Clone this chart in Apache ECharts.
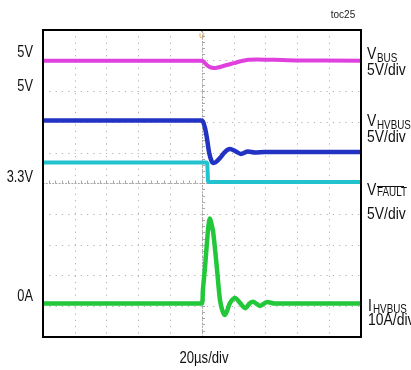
<!DOCTYPE html>
<html>
<head>
<meta charset="utf-8">
<script src="https://cdn.jsdelivr.net/npm/echarts/dist/echarts.min.js"></script>
<style>
html,body{margin:0;padding:0;background:#fff;}
#chart{width:411px;height:370px;}
</style>
</head>
<body>
<div id="chart"></div>
<script>
// Time axis in microseconds (20 µs/div, 10 divisions), vertical axis in divisions from screen centre
var xTicks = [-100, -80, -60, -40, -20, 0, 20, 40, 60, 80, 100];

var vbusT   = [-100, -0.5, 1, 3, 5, 7.3, 10, 15, 20, 25, 29, 35, 45, 60, 100];
var vbusV   = [4.0, 4.0, 3.97, 3.86, 3.79, 3.76, 3.78, 3.85, 3.92, 3.99, 4.03, 4.04, 4.03, 4.01, 4.0];

var hvbusT  = [-100, -0.6, 0.6, 1.9, 3.1, 4.4, 5.7, 6.9, 8.8, 11.3, 14.5, 17.6, 20.8, 24.5, 28.9, 33.3, 39.6, 100];
var hvbusV  = [2.05, 2.05, 2.02, 1.81, 1.48, 1.03, 0.77, 0.67, 0.70, 0.83, 1.03, 1.12, 1.06, 0.96, 1.04, 1.01, 1.03, 1.03];

var faultT  = [-100, 3.3, 3.8, 100];
var faultV  = [0.68, 0.68, 0.05, 0.05];

var ihvbusT = [-100, -0.2, 0.6, 1.9, 3.6, 4.4, 5.0, 6.0, 7.1, 9.3, 11.3, 12.9, 14.5, 16.0, 17.6, 20.8, 23.9, 27.1, 30.2, 32.1, 34.6, 36.5, 40.9, 45.9, 100];
var ihvbusV = [-3.91, -3.91, -3.44, -2.72, -1.61, -1.25, -1.14, -1.32, -1.61, -2.72, -3.79, -4.15, -4.28, -4.12, -3.89, -3.73, -3.89, -4.06, -3.89, -3.85, -3.93, -3.99, -3.86, -3.91, -3.91];

function pairs(t, v) { return t.map(function (x, i) { return [x, v[i]]; }); }

var FONT = "'Liberation Sans', Arial, sans-serif";
var chart = echarts.init(document.getElementById('chart'), null, {renderer: 'canvas'});

// narrow-looking text (horizontal squeeze to mimic a condensed face)
function txt(s, x, y, size, align, color, sx) {
  return {type: 'text', silent: true, x: x, y: y, scaleX: sx || 0.82,
    style: {text: s, x: 0, y: 0, font: size + 'px ' + FONT,
    fill: color || '#111', textAlign: align || 'left', textVerticalAlign: 'middle', verticalAlign: 'middle'}};
}

var dotted = {color: '#b0b0b0', width: 1, type: [1.2, 5.1]};

var option = {
  animation: false,
  backgroundColor: '#fff',
  grid: {left: 43, right: 50, top: 30, bottom: 33, show: true, borderColor: '#000', borderWidth: 2, backgroundColor: 'transparent', z: 10},
  xAxis: {
    type: 'value', min: xTicks[0], max: xTicks[xTicks.length - 1], interval: 20,
    axisLine: {show: true, onZero: true, lineStyle: {color: '#a8a8a8', width: 1, type: [1.2, 2]}},
    axisTick: {show: true, inside: true, length: 3, lineStyle: {color: '#a8a8a8'}},
    minorTick: {show: true, splitNumber: 5, length: 3, lineStyle: {color: '#a8a8a8'}},
    axisLabel: {show: false},
    splitLine: {show: true, lineStyle: dotted}
  },
  yAxis: {
    type: 'value', min: -5, max: 5, interval: 1,
    axisLine: {show: true, onZero: true, lineStyle: {color: '#a8a8a8', width: 1, type: [1.2, 2]}},
    axisTick: {show: true, inside: true, length: 3, lineStyle: {color: '#a8a8a8'}},
    minorTick: {show: true, splitNumber: 5, length: 3, lineStyle: {color: '#a8a8a8'}},
    axisLabel: {show: false},
    splitLine: {show: true, lineStyle: dotted}
  },
  series: [
    {name: 'VBUS', type: 'line', data: pairs(vbusT, vbusV), showSymbol: false, smooth: 0.3,
      lineStyle: {color: '#e040de', width: 4}, z: 3},
    {name: 'VHVBUS', type: 'line', data: pairs(hvbusT, hvbusV), showSymbol: false, smooth: 0.3,
      lineStyle: {color: '#2233c4', width: 4.5}, z: 3},
    {name: 'VFAULT', type: 'line', data: pairs(faultT, faultV), showSymbol: false,
      lineStyle: {color: '#22c3cf', width: 4}, z: 2},
    {name: 'IHVBUS', type: 'line', data: pairs(ihvbusT, ihvbusV), showSymbol: false, smooth: 0.3,
      lineStyle: {color: '#22c83a', width: 4.5}, z: 3}
  ],
  graphic: [
    txt('toc25', 343, 15, 10, 'center', '#222', 1),
    txt('5V', 33, 52.5, 16, 'right', null, 0.8),
    txt('5V', 33, 86.5, 16, 'right', null, 0.8),
    txt('3.3V', 33, 178, 16, 'right', null, 0.8),
    txt('0A', 33, 297, 16, 'right', null, 0.8),
    txt('V', 367, 54.5, 17),
    txt('BUS', 377, 58.5, 12),
    txt('5V/div', 367, 70, 17),
    txt('V', 367, 121, 17),
    txt('HVBUS', 377, 125.5, 12),
    txt('5V/div', 367, 137, 17),
    txt('V', 367, 190.5, 17),
    txt('FAULT', 377, 193, 12),
    {type: 'line', silent: true, shape: {x1: 377, y1: 186.5, x2: 404, y2: 186.5}, style: {stroke: '#111', lineWidth: 1}},
    txt('5V/div', 367, 214, 17),
    txt('I', 368, 306, 17),
    txt('HVBUS', 373, 309.5, 12),
    txt('10A/div', 368, 320, 17),
    txt('20µs/div', 204, 359, 16, 'center'),
    txt('U', 202, 36, 8, 'center', '#f0a030', 1),
    {type: 'circle', silent: true, shape: {cx: 202, cy: 31, r: 1.2}, style: {fill: '#f0a030'}}
  ]
};
chart.setOption(option);
</script>
</body>
</html>
